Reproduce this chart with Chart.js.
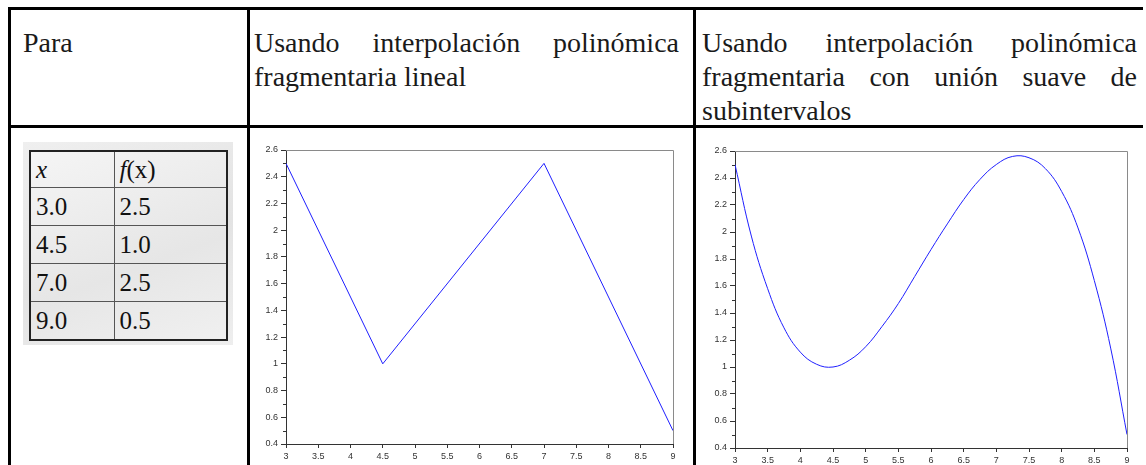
<!DOCTYPE html>
<html><head><meta charset="utf-8">
<script src="https://cdn.jsdelivr.net/npm/chart.js@4"></script>
<style>
html,body{margin:0;padding:0;background:#fff;width:1146px;height:465px;overflow:hidden;position:relative;font-family:"Liberation Serif","Times New Roman",serif;}
.ln{position:absolute;background:#000;}
.tx{position:absolute;font-size:28px;line-height:34px;color:#1a1a1a;white-space:nowrap;}
.j{text-align:justify;text-align-last:justify;white-space:normal;}
#img{position:absolute;left:23px;top:142px;width:210px;height:203px;background:linear-gradient(160deg,#efefef,#e3e3e3 55%,#eeeeee);}
#tb{position:absolute;left:29px;top:150px;width:199px;table-layout:fixed;border-collapse:collapse;border:2px solid #222;font-size:25px;color:#111;background:linear-gradient(160deg,#f5f5f5,#e6e6e6 60%,#f0f0f0);}
#tb td{border:1px solid #555;height:37px;padding:0 0 0 5px;vertical-align:middle;}
#tb tr:first-child td{height:35px;}
.cv{position:absolute;}
</style></head><body>
<div class="ln" style="left:8px;top:7px;width:1135px;height:3px"></div>
<div class="ln" style="left:8px;top:125px;width:1135px;height:3px"></div>
<div class="ln" style="left:8px;top:7px;width:3px;height:458px"></div>
<div class="ln" style="left:247px;top:7px;width:3px;height:458px"></div>
<div class="ln" style="left:693px;top:7px;width:3px;height:458px"></div>

<div class="tx" style="left:23px;top:26px">Para</div>
<div class="tx j" style="left:254px;top:26px;width:425px">Usando interpolación polinómica</div>
<div class="tx" style="left:254px;top:60px">fragmentaria lineal</div>
<div class="tx j" style="left:702px;top:26px;width:435px">Usando interpolación polinómica</div>
<div class="tx j" style="left:702px;top:60px;width:435px">fragmentaria con unión suave de</div>
<div class="tx" style="left:702px;top:94px">subintervalos</div>

<div id="img"></div>
<table id="tb">
<colgroup><col style="width:84px"><col></colgroup>
<tr><td><i>x</i></td><td><i>f</i>(x)</td></tr>
<tr><td>3.0</td><td>2.5</td></tr>
<tr><td>4.5</td><td>1.0</td></tr>
<tr><td>7.0</td><td>2.5</td></tr>
<tr><td>9.0</td><td>0.5</td></tr>
</table>

<div class="cv" style="left:250px;top:140px;width:430px;height:325px"><canvas id="c1"></canvas></div>
<div class="cv" style="left:700px;top:140px;width:440px;height:325px"><canvas id="c2"></canvas></div>

<script>
// data
const xNodes = [3.0, 4.5, 7.0, 9.0];
const fNodes = [2.5, 1.0, 2.5, 0.5];
const smoothX = [3, 3.25, 3.5, 3.75, 4, 4.25, 4.5, 4.75, 5, 5.25, 5.5, 5.75, 6, 6.25, 6.5, 6.75, 7, 7.25, 7.5, 7.75, 8, 8.25, 8.5, 8.75, 9];
const smoothY = [2.50, 1.97, 1.58, 1.29, 1.11, 1.02, 1.00, 1.05, 1.15, 1.30, 1.47, 1.67, 1.87, 2.06, 2.24, 2.39, 2.50, 2.56, 2.55, 2.47, 2.30, 2.03, 1.64, 1.14, 0.50];
const xRange = [3, 9];
const xStep = 0.5;
const yRange = [0.4, 2.6];
const yStep = 0.2;
const yMinor = [0.5, 0.7, 0.9, 1.1, 1.3, 1.5, 1.7, 1.9, 2.1, 2.3, 2.5];

const fmt = v => String(Math.round(v * 10) / 10);
const tickFont = {family: '"Liberation Sans", Arial, sans-serif', size: 9};
const axisCol = '#333';

const framePlugin = {
  id: 'frame',
  afterDraw(chart) {
    const {ctx, chartArea: a, scales} = chart;
    ctx.save();
    ctx.lineWidth = 1;
    ctx.strokeStyle = '#8a8a8a';
    ctx.beginPath();
    ctx.moveTo(a.left, a.top + 0.5);
    ctx.lineTo(Math.round(a.right) + 0.5, a.top + 0.5);
    ctx.lineTo(Math.round(a.right) + 0.5, a.bottom);
    ctx.stroke();
    ctx.strokeStyle = axisCol;
    ctx.beginPath();
    for (const v of yMinor) {
      const py = Math.round(scales.y.getPixelForValue(v)) + 0.5;
      ctx.moveTo(a.left - 3, py);
      ctx.lineTo(a.left, py);
    }
    ctx.stroke();
    ctx.restore();
  }
};

function makeChart(id, xs, ys, pad, yW, xH, smooth) {
  new Chart(document.getElementById(id), {
    type: 'line',
    data: {datasets: [{
      data: xs.map((x, i) => ({x, y: ys[i]})),
      borderColor: '#1f1fff', borderWidth: 1, pointRadius: 0, fill: false,
      tension: smooth ? 0.4 : 0
    }]},
    options: {
      responsive: true, maintainAspectRatio: false, animation: false,
      layout: {padding: pad},
      plugins: {legend: {display: false}, tooltip: {enabled: false}},
      scales: {
        x: {type: 'linear', min: xRange[0], max: xRange[1],
            ticks: {stepSize: xStep, callback: fmt, font: tickFont, color: '#333', padding: 3, maxRotation: 0, autoSkip: false},
            grid: {drawOnChartArea: false, tickLength: 4, color: axisCol},
            border: {color: axisCol, width: 1},
            afterFit: s => { s.height = xH; }},
        y: {type: 'linear', min: yRange[0], max: yRange[1],
            ticks: {stepSize: yStep, callback: fmt, font: tickFont, color: '#333', padding: 3, autoSkip: false},
            grid: {drawOnChartArea: false, tickLength: 5, color: axisCol},
            border: {color: axisCol, width: 1},
            afterFit: s => { s.width = yW; }}
      }
    },
    plugins: [framePlugin]
  });
}

makeChart('c1', xNodes, fNodes, {left: 0, right: 7, top: 10, bottom: 0}, 36, 21, false);
makeChart('c2', smoothX, smoothY, {left: 0, right: 13, top: 11, bottom: 0}, 35, 17, true);
</script>
</body></html>
